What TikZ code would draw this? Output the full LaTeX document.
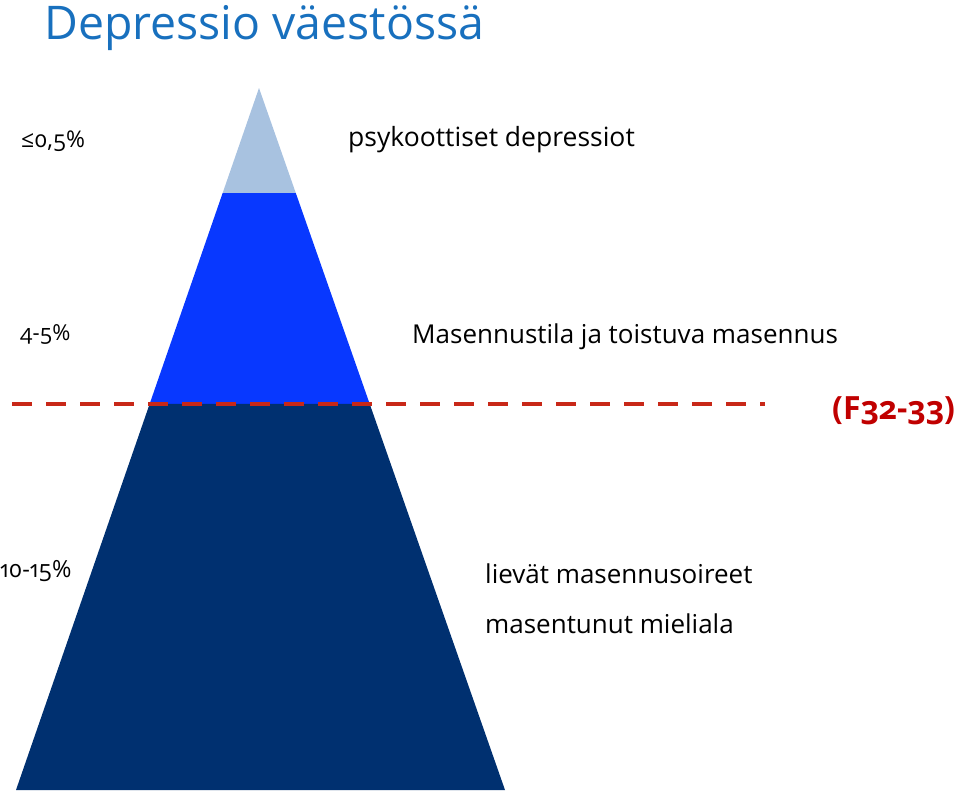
\documentclass[tikz,border=0pt]{standalone}
\usepackage{fontspec}
\setmainfont{Open Sans}
\newfontfamily\pctfont[Numbers=OldStyle]{Open Sans}
\usetikzlibrary{calc,positioning}

\definecolor{titleblue}{RGB}{24,112,190}
\definecolor{icelight}{RGB}{168,194,224}
\definecolor{iceblue}{RGB}{8,56,255}
\definecolor{icenavy}{RGB}{0,48,112}
\definecolor{waterred}{RGB}{200,40,24}
\definecolor{codered}{RGB}{192,0,0}

\tikzset{
	pct/.style={anchor=base west,inner sep=0pt,font=\pctfont\fontsize{23}{27}\selectfont},
	desc/.style={anchor=base west,inner sep=0pt,font=\fontsize{26}{30}\selectfont},
}

\begin{document}
\begin{tikzpicture}[x=1pt,y=-1pt]
	\useasboundingbox (0,0) rectangle (960,792);

	% iceberg
	\coordinate (apex) at (259,88);
	\coordinate (baseleft) at (16,790);
	\coordinate (baseright) at (505,790);
	\coordinate (band1left) at ($(apex)!0.1496!(baseleft)$);
	\coordinate (band1right) at ($(apex)!0.1496!(baseright)$);
	\coordinate (band2left) at ($(apex)!0.4501!(baseleft)$);
	\coordinate (band2right) at ($(apex)!0.4501!(baseright)$);

	\fill[icelight] (apex) -- (band1left) -- (band1right) -- cycle;
	\fill[iceblue] (band1left) -- (band2left) -- (band2right) -- (band1right) -- cycle;
	\fill[icenavy] (band2left) -- (baseleft) -- (baseright) -- (band2right) -- cycle;

	% water line
	\coordinate (waterleft) at (12,404);
	\coordinate (waterright) at (765,404);
	\draw[waterred,line width=4.5pt,dash pattern=on 20pt off 14pt] (waterleft) -- (waterright);

	\node[anchor=base west,inner sep=0pt,text=titleblue,font=\fontsize{46.4}{52}\selectfont](title) at (44,40) {Depressio väestössä};

	\node[pct](pcttop) at (21,147) {≤0,5\%};
	\node[desc,font=\fontsize{26.5}{30}\selectfont](psyk) at (348,146) {psykoottiset depressiot};

	\node[pct,font=\pctfont\fontsize{22}{26}\selectfont](pctmid) at (20,340) {4-5\%};
	\node[desc](masennus) at (412,343) {Masennustila ja toistuva masennus};

	\node[anchor=base west,inner sep=0pt,text=codered,font=\pctfont\bfseries\fontsize{32}{38}\selectfont](icd) at (832,419) {(F32-33)};

	\node[pct,font=\pctfont\fontsize{23.6}{27}\selectfont](pctlow) at (0,577) {10-15\%};
	\node[desc](lievat) at (485,583) {lievät masennusoireet};
	\node[desc](mieliala) at (485,633) {masentunut mieliala};
\end{tikzpicture}
\end{document}
